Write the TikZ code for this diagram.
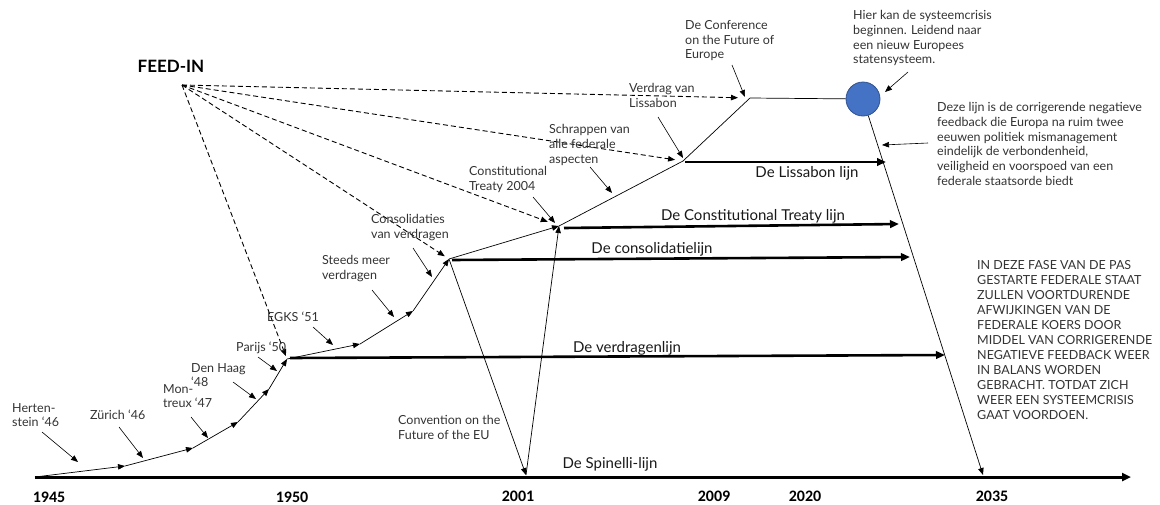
\documentclass[tikz,border=0pt]{standalone}
\usepackage{fontspec}
\setmainfont{Lato}
\newfontfamily\yearfont{Carlito}
\usetikzlibrary{arrows.meta}
\definecolor{crisisfill}{HTML}{4472C4}
\definecolor{crisisedge}{HTML}{2F528F}
\begin{document}
\begin{tikzpicture}[x=1pt,y=-1pt,
  lbl/.style={anchor=north west, inner sep=0pt, align=left, text=black!80,
    font=\fontsize{12.5}{14.8}\selectfont},
  caps/.style={anchor=north west, inner sep=0pt, align=left, text=black!80,
    font=\fontsize{12.5}{15}\selectfont},
  lijnlbl/.style={inner sep=0pt, text=black!90, font=\fontsize{15}{18}\selectfont},
  year/.style={inner sep=0pt, font=\yearfont\bfseries\fontsize{16}{18}\selectfont},
  feedlbl/.style={inner sep=0pt, font=\bfseries\fontsize{17}{20}\selectfont},
  thintip/.style={-{Triangle[length=7pt,width=5.5pt]}},
  ann/.style={thintip, line width=0.6pt},
  path/.style={line width=0.7pt},
  patharr/.style={path, thintip},
  feedarr/.style={thintip, line width=0.9pt, dash pattern=on 5pt off 3pt},
  lijn/.style={line width=2.6pt, -{Triangle[length=9pt,width=7.5pt]}},
  axis/.style={line width=3pt, -{Triangle[length=9pt,width=8pt]}},
  crisisdot/.style={circle, minimum size=34pt, inner sep=0pt, fill=crisisfill,
    draw=crisisedge, line width=0.8pt}
]
\useasboundingbox (0,0) rectangle (1160,504);

% ---- points on the federal course ----
\coordinate (ax0) at (35,477);
\coordinate (ax1) at (1131,477);
\coordinate (k1) at (125,466);
\coordinate (k2) at (193,448);
\coordinate (k3) at (238,422);
\coordinate (k4) at (269,389);
\coordinate (y1950) at (287,359);
\coordinate (k5) at (360,344);
\coordinate (k6) at (413,311);
\coordinate (ycons) at (449,259);
\coordinate (yconst) at (559,226);
\coordinate (ylis) at (683,161);
\coordinate (yconf) at (750,98);
\node[crisisdot] (crisis) at (863,99) {};
\coordinate (y2001) at (526,475);
\coordinate (y2035) at (983,475);
\coordinate (feed) at (182,85);

% ---- Spinelli axis ----
\draw[axis] (ax0) -- (ax1);

% ---- rising course ----
\draw[patharr] (ax0) -- (k1);
\draw[patharr] (k1) -- (k2);
\draw[patharr] (k2) -- (k3);
\draw[patharr] (k3) -- (k4);
\draw[patharr] (k4) -- (y1950);
\draw[patharr] (y1950) -- (k5);
\draw[patharr] (k5) -- (k6);
\draw[patharr] (k6) -- (ycons);
\draw[patharr] (ycons) -- (yconst);
\draw[path] (yconst) -- (ylis);
\draw[path] (ylis) -- (yconf);
\draw[path] (yconf) -- (crisis);
\draw[patharr] (crisis) -- (y2035);
\draw[patharr] (ycons) -- (y2001);
\draw[patharr] (y2001) -- (yconst);

% ---- horizontal lines ----
\coordinate (v0) at (290,358); \coordinate (v1) at (945,355);
\coordinate (c0) at (452,260); \coordinate (c1) at (910,257);
\coordinate (t0) at (564,228); \coordinate (t1) at (899,224);
\coordinate (l0) at (685,162); \coordinate (l1) at (886,162);
\draw[lijn] (v0) -- (v1);
\draw[lijn] (c0) -- (c1);
\draw[lijn] (t0) -- (t1);
\draw[lijn] (l0) -- (l1);

\node[lijnlbl] (lv) at (627,348) {De verdragenlijn};
\node[lijnlbl] (lc) at (652,249) {De consolidatielijn};
\node[lijnlbl] (lt) at (753,216) {De Constitutional Treaty lijn};
\node[lijnlbl] (ll) at (807,173) {De Lissabon lijn};
\node[lijnlbl] (ls) at (610,464) {De Spinelli-lijn};

% ---- feed-in ----
\node[feedlbl] (feedin) at (171,66) {FEED-IN};
\draw[feedarr, shorten >=3pt] (feed) -- (y1950);
\draw[feedarr, shorten >=5pt] (feed) -- (ycons);
\draw[feedarr, shorten >=12pt] (feed) -- (yconst);
\draw[feedarr, shorten >=8pt] (feed) -- (ylis);
\draw[feedarr, shorten >=12pt] (feed) -- (yconf);

% ---- years ----
\node[year] (j1945) at (49,497) {1945};
\node[year] (j1950) at (292,497) {1950};
\node[year] (j2001) at (518,496) {2001};
\node[year] (j2009) at (714,496) {2009};
\node[year] (j2020) at (805,496) {2020};
\node[year] (j2035) at (992,496) {2035};

% ---- event labels ----
\node[lbl] (herten) at (12,403) {Herten-\\stein ‘46};
\node[lbl] (zurich) at (90,410) {Zürich ‘46};
\node[lbl] (montreux) at (163,384) {Mon-\\treux ‘47};
\node[lbl] (denhaag) at (191,363) {Den Haag\\ ‘48};
\node[lbl] (parijs) at (236,342) {Parijs ‘50};
\node[lbl] (egks) at (267,312) {EGKS ‘51};
\node[lbl] (steeds) at (322,255) {Steeds meer\\verdragen};
\node[lbl] (consol) at (371,214) {Consolidaties\\van verdragen};
\node[lbl] (consttr) at (469,166) {Constitutional\\Treaty 2004};
\node[lbl] (schrap) at (549,124) {Schrappen van\\alle federale\\aspecten};
\node[lbl] (verdrag) at (629,83) {Verdrag van\\Lissabon};
\node[lbl] (confer) at (685,20) {De Conference\\on the Future of\\Europe};
\node[lbl] (hier) at (853,10) {Hier kan de systeemcrisis\\beginnen. Leidend naar\\een nieuw Europees\\statensysteem.};
\node[lbl] (deze) at (937,102) {Deze lijn is de corrigerende negatieve\\feedback die Europa na ruim twee\\eeuwen politiek mismanagement\\eindelijk de verbondenheid,\\veiligheid en voorspoed van een\\federale staatsorde biedt};
\node[caps] (fase) at (977,260) {IN DEZE FASE VAN DE PAS\\GESTARTE FEDERALE STAAT\\ZULLEN VOORTDURENDE\\AFWIJKINGEN VAN DE\\FEDERALE KOERS DOOR\\MIDDEL VAN CORRIGERENDE\\NEGATIEVE FEEDBACK WEER\\IN BALANS WORDEN\\GEBRACHT. TOTDAT ZICH\\WEER EEN SYSTEEMCRISIS\\GAAT VOORDOEN.};
\node[lbl] (conv) at (398,415) {Convention on the\\Future of the EU};

% ---- pointer arrows from labels ----
\coordinate (a1s) at (42,432);  \coordinate (a1e) at (78,462);
\coordinate (a2s) at (119,427); \coordinate (a2e) at (143,458);
\coordinate (a3s) at (191,417); \coordinate (a3e) at (208,438);
\coordinate (a4s) at (233,382); \coordinate (a4e) at (256,399);
\coordinate (a5s) at (258,357); \coordinate (a5e) at (277,371);
\coordinate (a6s) at (313,327); \coordinate (a6e) at (333,345);
\coordinate (a7s) at (372,290); \coordinate (a7e) at (394,317);
\coordinate (a8s) at (413,248); \coordinate (a8e) at (432,277);
\coordinate (a9s) at (533,197); \coordinate (a9e) at (555,223);
\coordinate (a10s) at (590,167); \coordinate (a10e) at (612,193);
\coordinate (a11s) at (658,117); \coordinate (a11e) at (683,158);
\coordinate (a12s) at (732,65);  \coordinate (a12e) at (745,97);
\coordinate (a13s) at (908,72);  \coordinate (a13e) at (885,92);
\coordinate (a14s) at (928,143); \coordinate (a14e) at (882,145);
\foreach \i in {1,...,14} {\draw[ann] (a\i s) -- (a\i e);}
\end{tikzpicture}
\end{document}
